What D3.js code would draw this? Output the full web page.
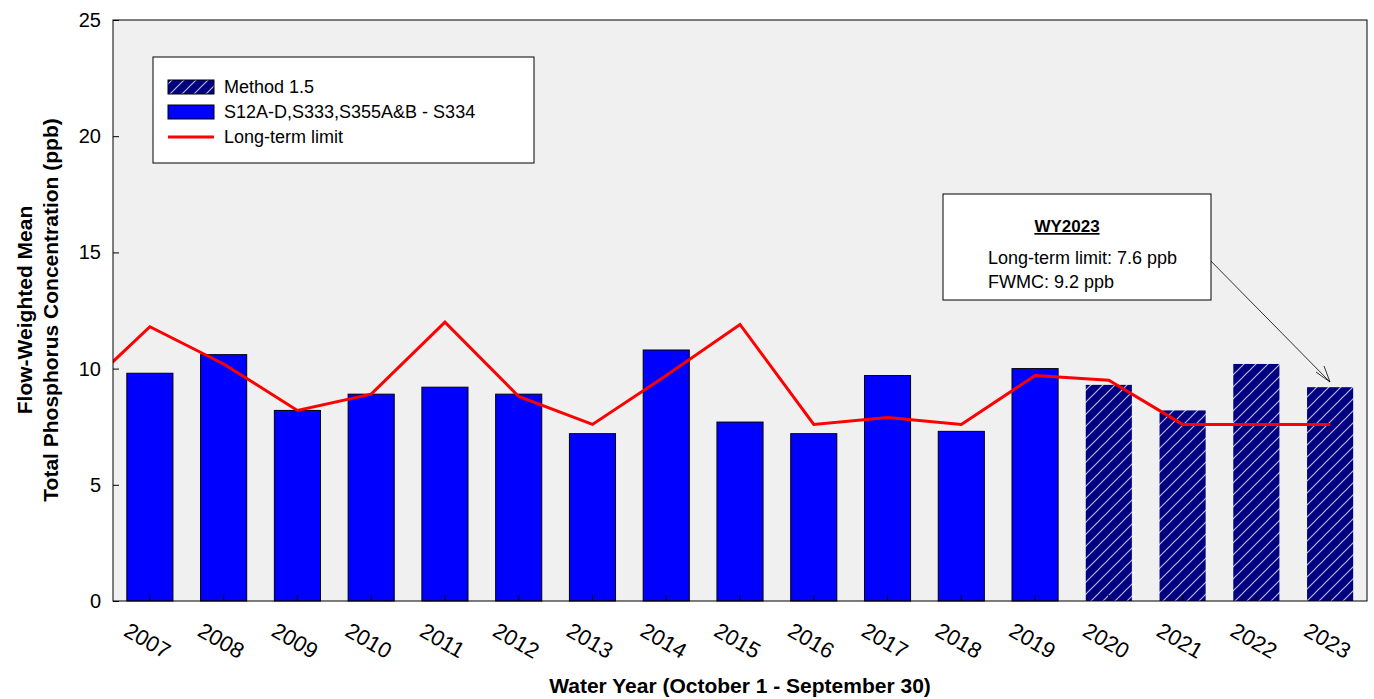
<!DOCTYPE html>
<html><head><meta charset="utf-8">
<script src="https://cdn.jsdelivr.net/npm/d3@7"></script>
<style>body{margin:0;background:#fff}</style></head>
<body><svg id="c" width="1374" height="699"></svg>
<script>
const years=["2007","2008","2009","2010","2011","2012","2013","2014","2015","2016","2017","2018","2019","2020","2021","2022","2023"];
const fwmc=[9.8,10.6,8.2,8.9,9.2,8.9,7.2,10.8,7.7,7.2,9.7,7.3,10.0,9.3,8.2,10.2,9.2];
const method15=[false,false,false,false,false,false,false,false,false,false,false,false,false,true,true,true,true];
const limitYears=["2006"].concat(years);
const limitVals=[8.8,11.8,10.2,8.2,8.9,12.0,8.8,7.6,9.7,11.9,7.6,7.9,7.6,9.7,9.5,7.6,7.6,7.6];
const yTicks=[0,5,10,15,20,25];

const svg=d3.select("#c");
const L=113,R=1367,T=20,B=601;
const F="Arial, Liberation Sans";
const x=d3.scaleBand().domain(years).range([L,R]).paddingInner(0.375).paddingOuter(0.1875);
const y=d3.scaleLinear().domain([0,25]).range([B,T]);
const defs=svg.append("defs");
const p=defs.append("pattern").attr("id","hatch").attr("patternUnits","userSpaceOnUse").attr("width",12).attr("height",12);
p.append("rect").attr("width",12).attr("height",12).attr("fill","#000080");
p.append("path").attr("d","M0,12 L12,0 M-3,3 L3,-3 M9,15 L15,9").attr("stroke","#b8b8e0").attr("stroke-width",1.2);
defs.append("clipPath").attr("id","clip").append("rect").attr("x",L).attr("y",T).attr("width",R-L).attr("height",B-T);

svg.append("rect").attr("x",L).attr("y",T).attr("width",R-L).attr("height",B-T).attr("fill","#f0f0f0");
svg.append("g").selectAll("rect").data(years).join("rect")
 .attr("x",d=>x(d)).attr("width",x.bandwidth()).attr("y",(d,i)=>y(fwmc[i])).attr("height",(d,i)=>B-y(fwmc[i]))
 .attr("fill",(d,i)=>method15[i]?"url(#hatch)":"#0000ff").attr("stroke",(d,i)=>method15[i]?"none":"#000").attr("stroke-width",1);
const step=x.step();
const lx=d=>d==="2006"?x("2007")+x.bandwidth()/2-step:x(d)+x.bandwidth()/2;
svg.append("path").attr("clip-path","url(#clip)")
 .attr("d",d3.line().x((d,i)=>lx(limitYears[i])).y(d=>y(d))(limitVals))
 .attr("fill","none").attr("stroke","#ff0000").attr("stroke-width",3);
svg.append("rect").attr("x",L).attr("y",T).attr("width",R-L).attr("height",B-T).attr("fill","none").attr("stroke","#000").attr("stroke-width",1);

const ya=svg.append("g").attr("transform",`translate(${L},0)`).call(d3.axisLeft(y).tickValues(yTicks).tickSize(-6).tickPadding(12));
ya.select(".domain").remove();
ya.selectAll("text").attr("font-family",F).attr("font-size",20).attr("fill","#000");
const xa=svg.append("g").attr("transform",`translate(0,${B})`).call(d3.axisBottom(x).tickSize(-6));
xa.select(".domain").remove();
xa.selectAll("text").attr("font-family",F).attr("font-size",22).attr("fill","#000")
 .attr("text-anchor","middle").attr("transform","translate(3,30) rotate(30)");

svg.append("text").attr("x",740).attr("y",693).attr("text-anchor","middle").attr("font-family",F).attr("font-weight","bold").attr("font-size",21).text("Water Year (October 1 - September 30)");
const yl=svg.append("text").attr("transform","translate(0,310) rotate(-90)").attr("text-anchor","middle").attr("font-family",F).attr("font-weight","bold").attr("font-size",21);
yl.append("tspan").attr("x",0).attr("y",32).text("Flow-Weighted Mean");
yl.append("tspan").attr("x",0).attr("y",58).text("Total Phosphorus Concentration (ppb)");

const lg=svg.append("g");
lg.append("rect").attr("x",153).attr("y",57).attr("width",381).attr("height",106).attr("fill","#fff").attr("stroke","#000");
const items=[["hatch","Method 1.5"],["solid","S12A-D,S333,S355A&B - S334"],["line","Long-term limit"]];
items.forEach((it,i)=>{const cy=87+i*25;
 if(it[0]==="line") lg.append("line").attr("x1",168).attr("x2",214).attr("y1",cy).attr("y2",cy).attr("stroke","#f00").attr("stroke-width",3);
 else lg.append("rect").attr("x",168).attr("y",cy-7).attr("width",46).attr("height",14).attr("fill",it[0]==="hatch"?"url(#hatch)":"#0000ff").attr("stroke","#000");
 lg.append("text").attr("x",224).attr("y",cy+6).attr("font-family",F).attr("font-size",18).text(it[1]);
});

const ab=svg.append("g");
ab.append("line").attr("x1",1200).attr("y1",250).attr("x2",1330).attr("y2",382).attr("stroke","#000").attr("stroke-width",0.8);
ab.append("path").attr("d","M1316,372 L1330,382 L1324,366").attr("fill","none").attr("stroke","#000").attr("stroke-width",0.8);
ab.append("rect").attr("x",943).attr("y",194).attr("width",268).attr("height",106).attr("fill","#fff").attr("stroke","#000");
ab.append("text").attr("x",1067).attr("y",232).attr("text-anchor","middle").attr("font-family",F).attr("font-weight","bold").attr("font-size",17).attr("text-decoration","underline").text("WY2023");
ab.append("text").attr("x",988).attr("y",264).attr("font-family",F).attr("font-size",18).text("Long-term limit: 7.6 ppb");
ab.append("text").attr("x",988).attr("y",288).attr("font-family",F).attr("font-size",18).text("FWMC: 9.2 ppb");
</script></body></html>
